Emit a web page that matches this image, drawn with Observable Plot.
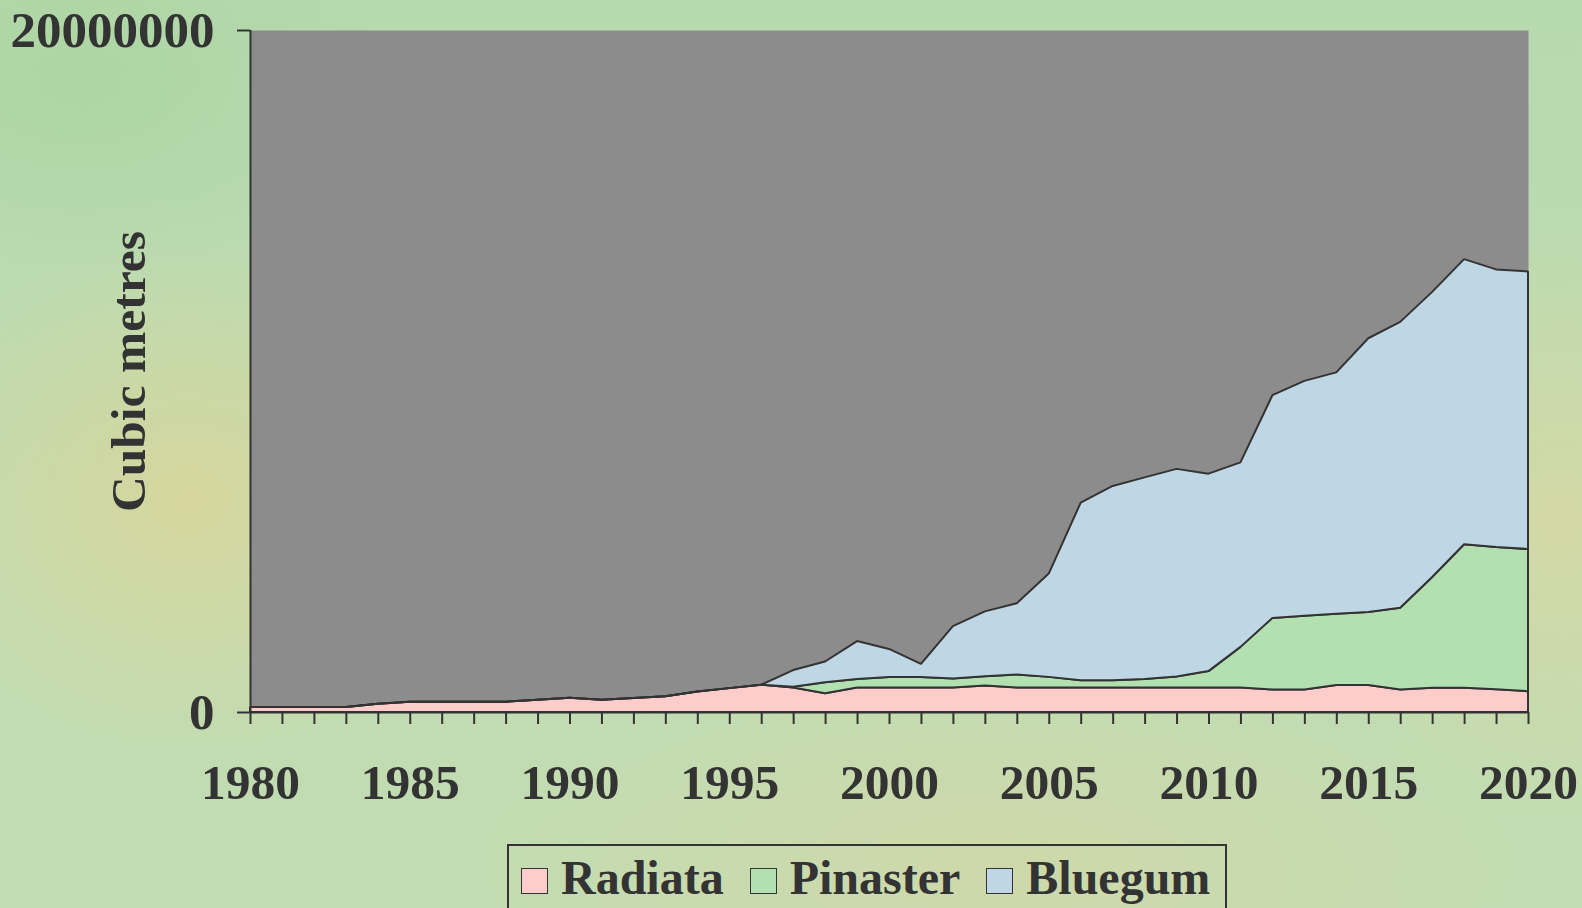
<!DOCTYPE html>
<html>
<head>
<meta charset="utf-8">
<script src="https://cdn.jsdelivr.net/npm/d3@7"></script>
<script src="https://cdn.jsdelivr.net/npm/@observablehq/plot@0.6"></script>
<style>
html, body { margin: 0; padding: 0; width: 1582px; height: 908px; overflow: hidden; }
body {
  position: relative;
  font-family: "Liberation Serif", "Times New Roman", serif;
  background:
    radial-gradient(ellipse 320px 260px at 190px 500px, rgba(222,212,150,0.75), rgba(222,212,150,0)),
    radial-gradient(ellipse 260px 300px at 1560px 520px, rgba(220,215,160,0.7), rgba(220,215,160,0)),
    radial-gradient(ellipse 520px 200px at 1000px 860px, rgba(214,214,165,0.6), rgba(214,214,165,0)),
    radial-gradient(ellipse 300px 200px at 80px 80px, rgba(170,212,160,0.8), rgba(170,212,160,0)),
    linear-gradient(180deg, #b6d9ad 0%, #bfdcb3 55%, #c3dcb1 100%);
}
#chart { position: absolute; left: 0; top: 0; }
#legend {
  position: absolute; left: 507px; top: 844px; width: 720px; height: 100px;
  box-sizing: border-box; border: 2px solid #333;
  display: flex; align-items: baseline;
  padding: 8px 0 0 12px;
  font-weight: bold; font-size: 48px; line-height: 48px; color: #333;
}
.item { display: flex; align-items: baseline; margin-right: 26px; }
.sw { width: 25px; height: 24px; border: 1.5px solid #333; margin-right: 13px; }
</style>
</head>
<body>
<div id="chart"></div>
<div id="legend"></div>
<script>
const years = [1980,1981,1982,1983,1984,1985,1986,1987,1988,1989,1990,1991,1992,1993,1994,1995,1996,1997,1998,1999,2000,2001,2002,2003,2004,2005,2006,2007,2008,2009,2010,2011,2012,2013,2014,2015,2016,2017,2018,2019,2020];
const radiata = [150000,150000,150000,150000,240000,300000,300000,300000,300000,360000,420000,360000,410000,460000,600000,700000,800000,720000,550000,720000,720000,720000,720000,780000,720000,720000,720000,720000,720000,720000,720000,720000,660000,660000,790000,790000,660000,710000,710000,670000,610000];
const pinaster = [0,0,0,0,0,0,0,0,0,0,0,0,0,0,0,0,0,20000,320000,250000,310000,310000,260000,270000,380000,310000,210000,210000,250000,320000,480000,1190000,2100000,2160000,2090000,2140000,2400000,3250000,4210000,4170000,4170000];
const bluegum = [0,0,0,0,0,0,0,0,0,0,0,0,0,0,0,0,0,490000,610000,1110000,820000,380000,1540000,1900000,2090000,3030000,5210000,5700000,5910000,6090000,5790000,5410000,6530000,6890000,7080000,8030000,8380000,8360000,8360000,8140000,8140000];
const seriesNames = ["Radiata", "Pinaster", "Bluegum"];
const seriesColors = ["#ffcccc", "#b3e0b1", "#bfd6e4"];
const yTicks = [0, 20000000];
const xLabelTicks = [1980, 1985, 1990, 1995, 2000, 2005, 2010, 2015, 2020];
const yTitle = "Cubic metres";

const seriesValues = [radiata, pinaster, bluegum];
const table = [];
seriesNames.forEach((name, i) => {
  years.forEach((yr, j) => table.push({series: name, year: yr, value: seriesValues[i][j]}));
});

const chart = Plot.plot({
  width: 1582,
  height: 844,
  marginLeft: 250,
  marginRight: 54,
  marginTop: 30,
  marginBottom: 132,
  style: {fontFamily: "'Liberation Serif', 'Times New Roman', serif", fontWeight: "bold", color: "#333", background: "transparent", overflow: "visible"},
  x: {type: "linear", domain: [1980, 2020]},
  y: {domain: [0, 20000000]},
  color: {domain: seriesNames, range: seriesColors},
  marks: [
    Plot.frame({fill: "#8c8c8c", stroke: "none"}),
    Plot.areaY(table, Plot.stackY({x: "year", y: "value", z: "series", fill: "series", order: seriesNames, stroke: "#333", strokeWidth: 2, strokeLinejoin: "miter"})),
    Plot.ruleX([1980], {stroke: "#333", strokeWidth: 2}),
    Plot.ruleY([0], {stroke: "#333", strokeWidth: 2}),
    Plot.axisX({ticks: years, tickSize: 12, tickFormat: () => "", label: null, strokeWidth: 2}),
    Plot.axisX({ticks: xLabelTicks, tickSize: 0, tickPadding: 51, tickFormat: d => String(d), label: null, fontSize: 49.5, fontWeight: "bold"}),
    Plot.axisY({ticks: yTicks, tickSize: 13, tickPadding: 23, tickFormat: d => String(d), label: null, fontSize: 51, fontWeight: "bold", strokeWidth: 2}),
    Plot.text([yTitle], {frameAnchor: "left", textAnchor: "middle", lineAnchor: "middle", dx: -121, rotate: -90, fontSize: 49.5, fontWeight: "bold", fill: "#333"})
  ]
});
document.getElementById("chart").appendChild(chart);

const legend = document.getElementById("legend");
seriesNames.forEach((name, i) => {
  const item = document.createElement("div");
  item.className = "item";
  const sw = document.createElement("div");
  sw.className = "sw";
  sw.style.background = seriesColors[i];
  const label = document.createElement("span");
  label.textContent = name;
  item.appendChild(sw);
  item.appendChild(label);
  legend.appendChild(item);
});
</script>
</body>
</html>
